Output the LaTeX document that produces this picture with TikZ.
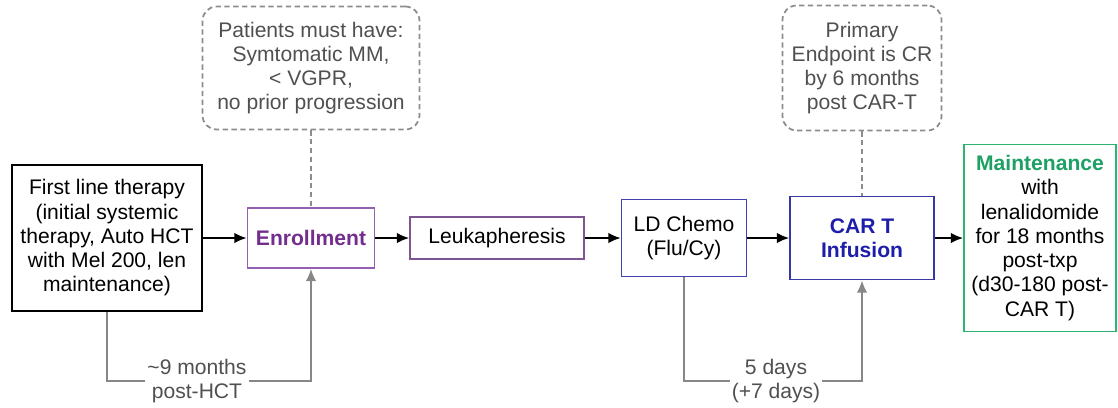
\documentclass[tikz,border=0pt]{standalone}
\usepackage{fontspec}
\setmainfont{Liberation Sans}
\usetikzlibrary{arrows.meta}

\definecolor{enrollline}{RGB}{150,95,175}
\definecolor{enrolltext}{RGB}{115,45,140}
\definecolor{leukline}{RGB}{125,85,145}
\definecolor{chemoline}{RGB}{65,65,175}
\definecolor{cartline}{RGB}{55,55,165}
\definecolor{carttext}{RGB}{30,30,170}
\definecolor{maintline}{RGB}{45,180,110}
\definecolor{mainttext}{RGB}{30,160,100}
\definecolor{noteline}{RGB}{140,140,140}
\definecolor{notetext}{RGB}{80,80,80}
\definecolor{lagline}{RGB}{135,135,135}

\newcommand{\diagfont}{\fontsize{12}{13.8}\selectfont}

\begin{document}
\begin{tikzpicture}[x=0.02cm, y=-0.02cm,
    every node/.style={font=\diagfont, align=center},
    stepbox/.style={draw, line width=1pt, inner sep=0pt},
    notebox/.style={draw=noteline, densely dashed, line width=1pt, rounded corners=8pt, text=notetext, inner sep=0pt},
    flow/.style={line width=1pt, -{Latex[length=7pt,width=6pt]}},
    lag/.style={draw=lagline, line width=1pt},
    lagarrow/.style={lag, -{Latex[length=7pt,width=6pt]}},
    lagtext/.style={text=notetext, inner sep=1pt}]
    \useasboundingbox (0,0) rectangle (1118,407);

    % main steps
    \node[stepbox, minimum width=3.8cm, minimum height=2.92cm] (first) at (107,238)
        {First line therapy\\(initial systemic\\therapy, Auto HCT\\with Mel 200, len\\maintenance)};
    \node[stepbox, draw=enrollline, text=enrolltext, font=\diagfont\bfseries,
        minimum width=2.54cm, minimum height=1.2cm] (enroll) at (311,238) {Enrollment};
    \node[stepbox, draw=leukline, minimum width=3.48cm, minimum height=0.84cm] (leuk) at (497,238) {Leukapheresis};
    \node[stepbox, draw=chemoline, minimum width=2.5cm, minimum height=1.54cm] (chemo) at (684,238) {LD Chemo\\(Flu/Cy)};
    \node[stepbox, draw=cartline, text=carttext, font=\diagfont\bfseries,
        minimum width=2.88cm, minimum height=1.66cm] (cart) at (862,238) {CAR T\\Infusion};
    \node[stepbox, draw=maintline, minimum width=3.04cm, minimum height=3.74cm] (maint) at (1040,238)
        {\textcolor{mainttext}{\textbf{Maintenance}}\\with\\lenalidomide\\for 18 months\\post-txp\\(d30-180 post-\\CAR T)};

    % notes
    \node[notebox, minimum width=4.34cm, minimum height=2.46cm] (patients) at (311,68)
        {Patients must have:\\Symtomatic MM,\\\textless{} VGPR,\\no prior progression};
    \node[notebox, minimum width=3.18cm, minimum height=2.5cm] (primary) at (862,68)
        {Primary\\Endpoint is CR\\by 6 months\\post CAR-T};
    \draw[noteline, densely dashed, line width=1pt] (patients) -- (enroll);
    \draw[noteline, densely dashed, line width=1pt] (primary) -- (cart);

    % flow
    \draw[flow] (first) -- (enroll);
    \draw[flow] (enroll) -- (leuk);
    \draw[flow] (leuk) -- (chemo);
    \draw[flow] (chemo) -- (cart);
    \draw[flow] (cart) -- (maint);

    % time gaps
    \node[lagtext] (gapa) at (197,381) {\textasciitilde9 months\\post-HCT};
    \node[lagtext] (gapb) at (776,381) {5 days\\(+7 days)};
    \draw[lag] (first.south) |- (gapa.west);
    \draw[lagarrow] (gapa.east) -| (enroll.south);
    \draw[lag] (chemo.south) |- (gapb.west);
    \draw[lagarrow] (gapb.east) -| (cart.south);
\end{tikzpicture}
\end{document}
